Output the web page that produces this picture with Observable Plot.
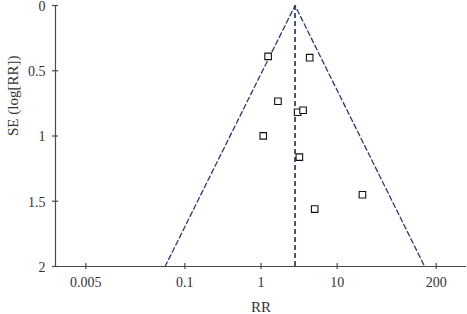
<!DOCTYPE html>
<html>
<head>
<meta charset="utf-8">
<script src="https://cdn.jsdelivr.net/npm/d3@7"></script>
<script src="https://cdn.jsdelivr.net/npm/@observablehq/plot@0.6"></script>
<style>
  html, body { margin: 0; padding: 0; background: #fff; }
  #chart { width: 467px; height: 314px; }
</style>
</head>
<body>
<div id="chart"></div>
<script>
// Study data (RR and its standard error on log scale)
const studyRR = [1.24, 4.36, 1.67, 3.03, 3.57, 1.07, 3.19, 21.5, 5.07];
const studySE = [0.39, 0.40, 0.734, 0.818, 0.803, 0.999, 1.162, 1.45, 1.56];

// Pooled estimate and funnel (pseudo 95% CI) outline
const pooledRR = 2.8;
const funnelRR = [0.055, 2.8, 141];
const funnelSE = [2, 0, 2];

// Axes
const xTicks = [0.005, 0.1, 1, 10, 200];
const xTickLabels = ["0.005", "0.1", "1", "10", "200"];
const yTicks = [0, 0.5, 1, 1.5, 2];
const yTickLabels = ["0", "0.5", "1", "1.5", "2"];
const xTitle = "RR";
const yTitle = "SE (log[RR])";
const xDomain = [0.002, 500];
const yDomain = [0, 2];

const studies = studyRR.map((rr, i) => ({rr, se: studySE[i]}));
const funnel = funnelRR.map((rr, i) => ({rr, se: funnelSE[i]}));
const xTickData = xTicks.map((v, i) => ({v, label: xTickLabels[i]}));
const yTickData = yTicks.map((v, i) => ({v, label: yTickLabels[i]}));

const navy = "#2d3a66";
const axisColor = "#4a4a4a";
const textColor = "#333";

const chart = Plot.plot({
  width: 467,
  height: 314,
  marginLeft: 55,
  marginRight: 1,
  marginTop: 5,
  marginBottom: 48,
  style: {fontFamily: "'Liberation Serif', 'DejaVu Serif', serif", fontSize: "14px", color: textColor, background: "#fff", overflow: "visible"},
  x: {type: "log", domain: xDomain},
  y: {domain: yDomain, reverse: true},
  marks: [
    // axis lines
    Plot.ruleX([xDomain[0]], {stroke: axisColor, strokeWidth: 1.2}),
    Plot.ruleY([yDomain[1]], {stroke: axisColor, strokeWidth: 1.2}),
    // crossing ticks
    Plot.axisX({ticks: xTicks, tickSize: 6, dy: -3, fill: "none", stroke: axisColor, strokeWidth: 1.2, label: null}),
    Plot.axisY({ticks: yTicks, tickSize: 6, dx: 3, fill: "none", stroke: axisColor, strokeWidth: 1.2, label: null}),
    // tick labels
    Plot.text(xTickData, {x: "v", text: "label", frameAnchor: "bottom", dy: 20, fill: textColor, fontSize: 14}),
    Plot.text(yTickData, {y: "v", text: "label", frameAnchor: "left", dx: -10, dy: 1, textAnchor: "end", fill: textColor, fontSize: 14}),
    // axis titles
    Plot.text([xTitle], {text: d => d, frameAnchor: "bottom", dy: 45, fill: textColor, fontSize: 15}),
    Plot.text([yTitle], {text: d => d, frameAnchor: "left", dx: -42, rotate: -90, fill: textColor, fontSize: 15}),
    // funnel
    Plot.line(funnel, {x: "rr", y: "se", stroke: navy, strokeWidth: 1.3, strokeDasharray: "5,3"}),
    Plot.ruleX([pooledRR], {y1: yDomain[0], y2: yDomain[1], stroke: navy, strokeWidth: 1.7, strokeDasharray: "5,3"}),
    // studies
    Plot.dot(studies, {x: "rr", y: "se", symbol: "square", r: 3.7, stroke: "#111", strokeWidth: 1.1, fill: "white"})
  ]
});
document.getElementById("chart").appendChild(chart);
</script>
</body>
</html>
